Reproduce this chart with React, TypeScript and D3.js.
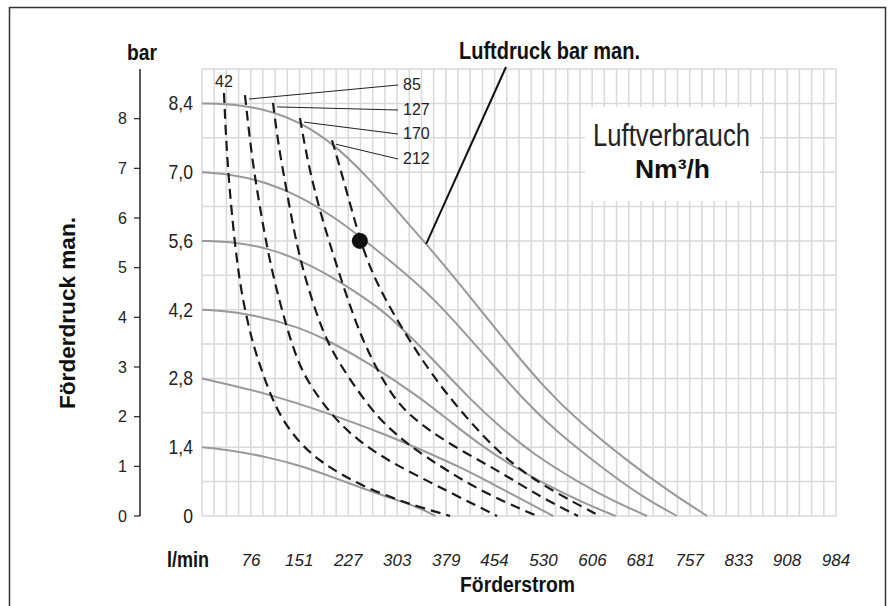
import React from 'react';
import * as d3 from 'd3';

// Förderstrom in l/min, Förderdruck in bar
const flowTicks = [76, 151, 227, 303, 379, 454, 530, 606, 681, 757, 833, 908, 984];
const barTicks = [0, 1.4, 2.8, 4.2, 5.6, 7.0, 8.4];
const leftTicks = [0, 1, 2, 3, 4, 5, 6, 7, 8];

// pump curves per air pressure (bar)
const airPressures = [8.4, 7.0, 5.6, 4.2, 2.8, 1.4];
const flow84 = [0, 59, 110, 152, 203, 256, 307, 348, 408, 478, 529, 582, 664, 726, 784];
const head84 = [8.4, 8.38, 8.23, 8.02, 7.59, 6.92, 6.15, 5.54, 4.6, 3.44, 2.65, 1.95, 1.08, 0.49, 0];
const flow70 = [0, 48, 101, 152, 203, 245, 338, 383, 450, 497, 547, 624, 682, 737];
const head70 = [7.0, 6.95, 6.79, 6.51, 6.1, 5.7, 4.7, 4.1, 3.1, 2.4, 1.75, 0.95, 0.4, 0];
const flow56 = [0, 48, 101, 152, 203, 281, 307, 338, 421, 466, 512, 585, 639, 691];
const head56 = [5.6, 5.58, 5.46, 5.21, 4.87, 4.19, 3.85, 3.48, 2.3, 1.78, 1.28, 0.68, 0.3, 0];
const flow42 = [0, 64, 152, 203, 256, 338, 392, 434, 477, 544, 595, 642];
const head42 = [4.2, 4.15, 3.85, 3.52, 3.14, 2.42, 1.85, 1.43, 1.05, 0.57, 0.25, 0];
const flow28 = [0, 101, 203, 281, 338, 400, 450, 500, 545];
const head28 = [2.8, 2.5, 2.06, 1.68, 1.36, 1.0, 0.66, 0.31, 0];
const flow14 = [0, 50, 101, 152, 203, 250, 287, 338, 362];
const head14 = [1.4, 1.33, 1.2, 1.03, 0.79, 0.56, 0.39, 0.17, 0];

// air consumption curves (Nm³/h)
const airUse = [42, 85, 127, 170, 212];
const useFlow42 = [34.1, 38.8, 48.1, 59, 74.5, 85.4, 100.9, 121.1, 152.1, 183.1, 214.2, 256.1, 307.3, 338.4, 384.9];
const useHead42 = [8.61, 7.25, 5.88, 4.66, 3.73, 3.24, 2.65, 2.02, 1.47, 1.12, 0.86, 0.57, 0.31, 0.18, 0];
const useFlow85 = [66.7, 77.6, 93.1, 108.6, 133.5, 152.1, 172.3, 203.3, 240.6, 287.1, 338.4, 392.7, 457.9];
const useHead85 = [8.57, 7.25, 6.03, 4.95, 3.73, 3.03, 2.57, 2.02, 1.55, 1.14, 0.79, 0.43, 0];
const useFlow127 = [110.2, 118, 131.9, 147.4, 164.5, 187.8, 209.5, 240.6, 271.6, 307.3, 338.4, 426.8, 520];
const useHead127 = [8.41, 7.59, 6.58, 5.48, 4.64, 3.73, 3.18, 2.57, 2.02, 1.59, 1.28, 0.53, 0];
const useFlow170 = [152.1, 159.9, 172.3, 189.4, 211.1, 235.9, 257.6, 287.1, 318.2, 384.9, 457.9, 524.6, 583.6];
const useHead170 = [8.1, 7.51, 6.74, 5.92, 5.01, 4.03, 3.34, 2.61, 2.06, 1.45, 0.94, 0.39, 0];
const useFlow212 = [201.8, 209.5, 225.1, 245.2, 262.3, 280.9, 307.3, 338.4, 374.1, 426.8, 478, 540.1, 617.7];
const useHead212 = [7.65, 7.31, 6.58, 5.62, 5.01, 4.5, 3.89, 3.24, 2.57, 1.75, 1.08, 0.53, 0];

// operating point
const dotFlow = 245;
const dotHead = 5.6;

const pumpCurves = [
  [flow84, head84], [flow70, head70], [flow56, head56],
  [flow42, head42], [flow28, head28], [flow14, head14],
];
const useCurves = [
  [useFlow42, useHead42], [useFlow85, useHead85], [useFlow127, useHead127],
  [useFlow170, useHead170], [useFlow212, useHead212],
];

const sans = "'Liberation Sans', Arial, sans-serif";

const fmtBar = (d: number) => (d === 0 ? '0' : d.toFixed(1).replace('.', ','));

export default function App() {
  const x = d3.scaleLinear().domain([0, 984]).range([202, 836]);
  const y = d3.scaleLinear().domain([0, 9.1]).range([516, 69]);
  const yLeft = d3.scaleLinear().domain([0, 9]).range([516, 69]);

  const line = d3.line<[number, number]>()
    .x(d => x(d[0]))
    .y(d => y(d[1]))
    .curve(d3.curveBasis);

  const toPts = (fl: number[], hd: number[]) => fl.map((f, i) => [f, hd[i]] as [number, number]);

  const vGrid = d3.range(53).map(i => x((i * 984) / 52));
  const hGrid = d3.range(14).map(j => y(j * 0.7));

  // label rows for the air consumption curves (85..212), 42 sits on top of its curve
  const labelBaselines = [90, 115, 139, 164];

  const bold = { fontFamily: sans, fontWeight: 'bold' as const, fill: '#111', lengthAdjust: 'spacingAndGlyphs' };

  return (
    <svg width={888} height={606} style={{ position: 'absolute', left: 0, top: 0, background: '#fff' }}>
      <rect x={9.5} y={7.5} width={876} height={640} fill="none" stroke="#333" strokeWidth={1.5} />

      {/* grid */}
      <g stroke="#d9d9d9" strokeWidth={1.5}>
        {vGrid.map((gx, i) => (
          <line key={'v' + i} x1={gx} x2={gx} y1={y(9.1)} y2={y(0)} />
        ))}
        {hGrid.map((gy, i) => (
          <line key={'h' + i} x1={x(0)} x2={x(984)} y1={gy} y2={gy} />
        ))}
      </g>
      <rect x={585} y={107} width={175} height={94} fill="#fff" />

      {/* left axis */}
      <line x1={140} x2={140} y1={yLeft(9)} y2={yLeft(0)} stroke="#222" strokeWidth={1.5} />
      {leftTicks.map(t => (
        <g key={t}>
          <line x1={134} x2={140} y1={yLeft(t)} y2={yLeft(t)} stroke="#222" strokeWidth={1.2} />
          <text x={127} y={yLeft(t) + 5.5} textAnchor="end" fontFamily={sans} fontSize={16} fill="#222">{t}</text>
        </g>
      ))}
      <text x={127} y={60} fontSize={22} textLength={30} {...bold}>bar</text>
      <text transform="translate(75,313) rotate(-90)" x={-96} y={0} fontSize={22} textLength={192} {...bold}>Förderdruck man.</text>

      {/* bar tick labels */}
      {barTicks.map(t => (
        <text key={t} transform={`translate(193,${y(t) + 7}) scale(0.88,1)`} textAnchor="end" fontFamily={sans} fontSize={20} fill="#222">{fmtBar(t)}</text>
      ))}

      {/* flow tick labels */}
      <text x={167} y={567} fontSize={22} textLength={42} {...bold}>l/min</text>
      {flowTicks.map(t => (
        <text key={t} x={x(t)} y={566} textAnchor="middle" fontFamily={sans} fontStyle="italic" fontSize={17} fill="#222">{t}</text>
      ))}
      <text x={460} y={592} fontSize={22} textLength={115} {...bold}>Förderstrom</text>

      {/* pump curves */}
      {pumpCurves.map(([fl, hd], i) => (
        <path key={airPressures[i]} d={line(toPts(fl, hd)) || ''} fill="none" stroke="#999" strokeWidth={2} />
      ))}

      {/* air consumption curves */}
      {useCurves.map(([fl, hd], i) => (
        <path key={airUse[i]} d={line(toPts(fl, hd)) || ''} fill="none" stroke="#1a1a1a" strokeWidth={2.2} strokeDasharray="10 6" />
      ))}

      {/* labels for air consumption */}
      <text x={x(useFlow42[0])} y={87} textAnchor="middle" fontFamily={sans} fontSize={16} fill="#222">{airUse[0]}</text>
      {useCurves.slice(1).map(([fl, hd], i) => (
        <g key={'l' + i}>
          <line x1={398} y1={labelBaselines[i] - 5} x2={x(fl[0]) + 4} y2={y(hd[0]) + 4} stroke="#222" strokeWidth={1} />
          <text x={403} y={labelBaselines[i]} fontFamily={sans} fontSize={16} fill="#222">{airUse[i + 1]}</text>
        </g>
      ))}

      {/* Luftdruck pointer */}
      <text x={459} y={59} fontSize={23} textLength={181} {...bold}>Luftdruck bar man.</text>
      <line x1={506} y1={67} x2={x(348)} y2={y(5.54)} stroke="#111" strokeWidth={2} />

      {/* Luftverbrauch box text */}
      <text x={593} y={146} fontFamily={sans} fontSize={31} fill="#222" textLength={157} lengthAdjust="spacingAndGlyphs">Luftverbrauch</text>
      <text x={635} y={178} fontSize={25} textLength={75} {...bold}>Nm³/h</text>

      <circle cx={x(dotFlow)} cy={y(dotHead)} r={8} fill="#111" />
    </svg>
  );
}
